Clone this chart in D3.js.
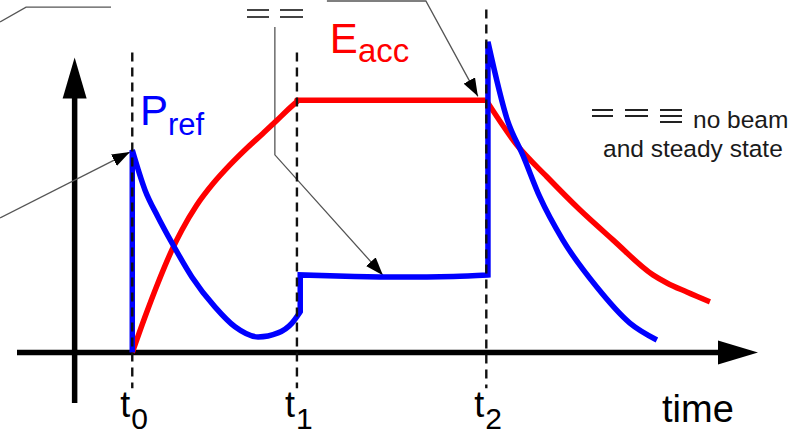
<!DOCTYPE html>
<html>
<head>
<meta charset="utf-8">
<script src="https://cdn.jsdelivr.net/npm/d3@7"></script>
<style>
  body { margin: 0; background: #fff; }
  svg { display: block; font-family: "Liberation Sans", Arial, sans-serif; }
</style>
</head>
<body>
<svg id="chart" width="798" height="436"></svg>
<script>
// time marks (arbitrary time units, t0 = 0)
const tTimes = [0, 10, 21.5];
const tSubs = ["0", "1", "2"];
const tTops = [1.19, 1.19, 1.36];

// E_acc : fill, flat top, decay
const eaccRise = [[0, 0], [0.77, 0.141], [1.56, 0.276], [2.41, 0.407], [3.0, 0.484], [3.91, 0.584],
    [4.92, 0.671], [5.93, 0.744], [6.95, 0.810], [7.95, 0.870], [8.77, 0.920], [9.37, 0.958], [10, 0.995]];
const eaccFlat = [[10, 1.0], [21.5, 1.0]];
const eaccDecay = [[21.5, 1.0], [23.36, 0.823], [25.18, 0.697], [27.18, 0.566], [29.19, 0.447],
    [31.62, 0.308], [32.47, 0.276], [33.68, 0.240], [35.08, 0.201]];

// P_ref : step, decay during fill, beam step, decay after t2
const prefStep0 = [[0, 0], [0, 0.803]];
const prefFill = [[0, 0.803], [0.77, 0.645], [1.56, 0.538], [2.41, 0.435], [3.62, 0.300],
    [5.02, 0.181], [6.24, 0.102], [7.64, 0.062], [8.85, 0.078], [9.7, 0.117], [10.2, 0.162]];
const prefStep1 = [[10.2, 0.162], [10.2, 0.308]];
const prefBeam = [[10.2, 0.308], [13.5, 0.302], [16.3, 0.300], [19.5, 0.302], [21.6, 0.308]];
const prefStep2 = [[21.6, 0.308], [21.6, 1.232]];
const prefDecay = [[21.6, 1.232], [22.78, 0.922], [23.72, 0.783], [24.75, 0.617],
    [26.15, 0.446], [28.21, 0.260], [30.22, 0.117], [31.86, 0.050]];

// annotation leader lines (same units)
const noteTopLeft = [[-8.03, 1.311], [-6.45, 1.370], [-1.29, 1.370]];
const noteLeft = [[-8.03, 0.534], [-0.14, 0.795]];
const noteMid = [[8.66, 1.291], [8.66, 0.784], [15.22, 0.307]];
const noteRight = [[11.82, 1.394], [17.83, 1.394], [20.99, 1.016]];

const svg = d3.select("#chart");
const x = d3.scaleLinear().domain([-7, 38]).range([17, 758]);
const y = d3.scaleLinear().domain([-0.2, 1.17]).range([403, 57.5]);

const smooth = d3.line().x(d => x(d[0])).y(d => y(d[1])).curve(d3.curveMonotoneX);
const straight = d3.line().x(d => x(d[0])).y(d => y(d[1]));

// join several pieces into one continuous path
const joined = parts => parts.map((p, i) => i ? p.replace(/^M/, "L") : p).join("");

// arrow marker for the notes
svg.append("defs").append("marker")
    .attr("id", "head")
    .attr("markerUnits", "userSpaceOnUse")
    .attr("viewBox", "0 0 18 13")
    .attr("refX", 18).attr("refY", 6.5)
    .attr("markerWidth", 18).attr("markerHeight", 13)
    .attr("orient", "auto")
    .append("path").attr("d", "M0,0L18,6.5L0,13Z").attr("fill", "#000");

// axes
const x0 = x(-7), x1 = x(38), yb = y(0);
const ax = x(-3.5), yTop = y(1.17), yBot = y(-0.2);
svg.append("line").attr("x1", x0).attr("x2", x1 - 38).attr("y1", yb).attr("y2", yb)
    .attr("stroke", "#000").attr("stroke-width", 5.5);
svg.append("path").attr("d", `M${x1},${yb}L${x1 - 40},${yb - 12}L${x1 - 40},${yb + 12}Z`).attr("fill", "#000");
svg.append("line").attr("x1", ax).attr("x2", ax).attr("y1", yBot).attr("y2", yTop + 38)
    .attr("stroke", "#000").attr("stroke-width", 5.5);
svg.append("path").attr("d", `M${ax},${yTop}L${ax - 12},${yTop + 41}L${ax + 12},${yTop + 41}Z`).attr("fill", "#000");

// notes
[noteTopLeft, noteLeft, noteMid, noteRight].forEach((pts, i) => {
    svg.append("path")
        .attr("d", straight(pts))
        .attr("fill", "none")
        .attr("stroke", "#555")
        .attr("stroke-width", 1.3)
        .attr("marker-end", i ? "url(#head)" : null);
});

// curves
svg.append("path")
    .attr("d", joined([smooth(eaccRise), straight(eaccFlat), smooth(eaccDecay)]))
    .attr("fill", "none").attr("stroke", "#ff0000").attr("stroke-width", 5.5)
    .attr("stroke-linejoin", "round");

svg.append("path")
    .attr("d", joined([straight(prefStep0), smooth(prefFill), straight(prefStep1),
        smooth(prefBeam), straight(prefStep2), smooth(prefDecay)]))
    .attr("fill", "none").attr("stroke", "#0000ff").attr("stroke-width", 5.5)
    .attr("stroke-linejoin", "miter");

// dashed time markers
svg.selectAll(".tmark")
    .data(tTimes)
    .enter()
    .append("line")
    .attr("x1", d => x(d)).attr("x2", d => x(d))
    .attr("y1", (d, i) => y(tTops[i])).attr("y2", y(-0.142))
    .attr("stroke", "#111").attr("stroke-width", 2.4)
    .attr("stroke-dasharray", "9,6");

// time labels
const tl = svg.selectAll(".tlab")
    .data(tTimes)
    .enter()
    .append("text")
    .attr("x", d => x(d) - 12)
    .attr("y", 417)
    .attr("font-size", 36)
    .attr("fill", "#000");
tl.append("tspan").text("t");
tl.append("tspan").attr("dy", 12).attr("dx", 1).attr("font-size", 30).text((d, i) => tSubs[i]);

svg.append("text").attr("x", 662).attr("y", 422).attr("font-size", 38).attr("fill", "#000").text("time");

// curve labels
const pl = svg.append("text").attr("x", x(0.47)).attr("y", y(0.902)).attr("font-size", 42).attr("fill", "#0000ff");
pl.append("tspan").text("P");
pl.append("tspan").attr("dy", 10).attr("font-size", 31).text("ref");

const el = svg.append("text").attr("x", x(12)).attr("y", y(1.187)).attr("font-size", 42).attr("fill", "#ff0000");
el.append("tspan").text("E");
el.append("tspan").attr("dy", 9).attr("font-size", 33).text("acc");

// double-line symbols
const dbl = (g, xa, xb, ys, col) => ys.forEach(v =>
    g.append("line").attr("x1", xa).attr("x2", xb).attr("y1", v).attr("y2", v)
        .attr("stroke", col).attr("stroke-width", 2));
const sym = svg.append("g");
dbl(sym, 247, 269, [10, 17], "#444");
dbl(sym, 280, 303, [10, 17], "#444");
dbl(sym, 592, 613, [110, 116], "#222");
dbl(sym, 625, 648, [110, 116], "#222");
dbl(sym, 660, 682, [110, 116, 122], "#222");

svg.append("text").attr("x", 693).attr("y", 128).attr("font-size", 24.5).attr("fill", "#1a1a1a").text("no beam");
svg.append("text").attr("x", 603).attr("y", 157).attr("font-size", 24.5).attr("fill", "#1a1a1a").text("and steady state");
</script>
</body>
</html>
